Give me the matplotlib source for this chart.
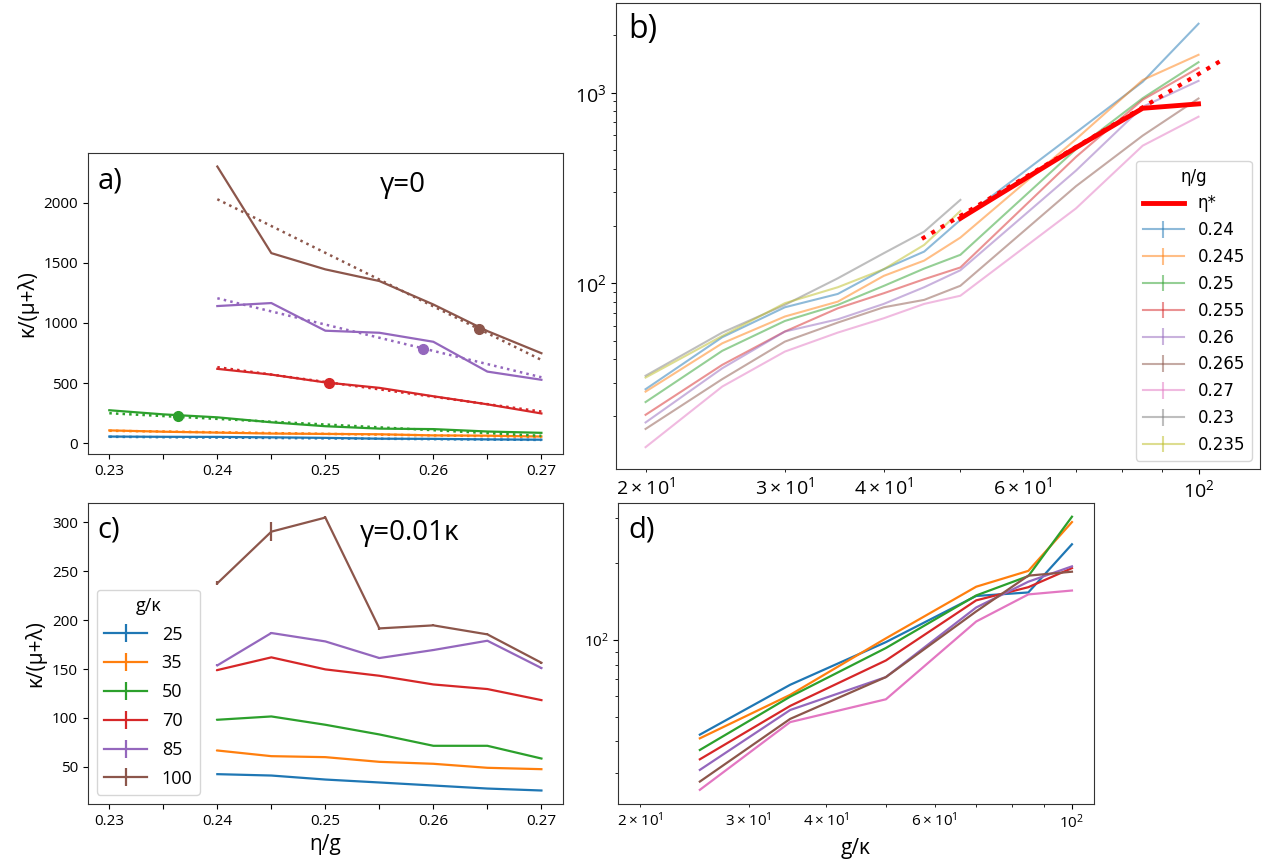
import numpy as np
import matplotlib
matplotlib.use("Agg")
import matplotlib.pyplot as plt

plt.rcParams['font.family'] = ['Open Sans', 'DejaVu Sans']
plt.rcParams['axes.edgecolor'] = '#333333'

nan = np.nan

# gamma = 0 runs: kappa/(mu+lambda) for each eta/g (rows) and g/kappa (columns)
gk0 = [20, 25, 30, 35, 40, 45, 50, 70, 85, 100]
eta0 = [0.23, 0.235, 0.24, 0.245, 0.25, 0.255, 0.26, 0.265, 0.27]
k0 = np.array([
    [32.7, 55.1, 77.0, 106.2, 143.7, 186.6, 273.8, nan, nan, nan],
    [32.0, 52.9, 78.6, 95.3, 118.4, 158.9, 239.5, nan, nan, nan],
    [27.8, 52.1, 74.8, 87.9, 118.4, 146.6, 214.9, 618, 1140, 2300],
    [27.0, 48.4, 66.9, 80.1, 109.3, 131.5, 173.6, 570, 1165, 1580],
    [23.8, 44.2, 63.4, 77.0, 96.8, 119.4, 141.0, 505, 935, 1445],
    [20.4, 37.3, 55.8, 73.9, 88.6, 105.0, 121.0, 460, 918, 1348],
    [18.6, 35.8, 55.8, 64.7, 77.9, 95.3, 117.0, 390, 843, 1153],
    [17.2, 31.4, 49.4, 62.2, 74.8, 81.8, 97.0, 323, 595, 932],
    [13.8, 28.7, 43.8, 55.1, 65.5, 77.9, 86.0, 247, 527, 748],
])

# linear fits drawn dotted in panel a (value at first and last eta of each curve)
a_gk = [25, 35, 50, 70, 85, 100]
a_fit_lo = [53, 103, 249, 632, 1205, 2028]
a_fit_hi = [27, 52, 61, 263, 548, 692]

# eta* location on each curve
star_eta = [0.2364, 0.2503, 0.2590, 0.2642]
star_val = [222, 504, 787, 950]
star_gk = [50, 70, 85, 100]

# eta* curve and its power-law fit in panel b
bstar_gk = [50, 70, 85, 100]
bstar_val = [219, 515, 828, 873]
bfit_gk = [44.7, 108]
bfit_val = [171, 1514]
b_order = [0.24, 0.245, 0.25, 0.255, 0.26, 0.265, 0.27, 0.23, 0.235]

# gamma = 0.01 kappa runs
gk1 = [25, 35, 50, 70, 85, 100]
eta1 = [0.24, 0.245, 0.25, 0.255, 0.26, 0.265, 0.27]
k1 = np.array([
    [42.5, 66.7, 98.1, 148.9, 153.7, 237.6],
    [41.1, 60.9, 101.5, 161.9, 186.8, 290.4],
    [37.0, 59.9, 93.0, 149.6, 178.2, 304.8],
    [34.0, 55.1, 83.1, 143.1, 161.2, 191.5],
    [30.9, 53.1, 71.5, 134.2, 169.4, 194.6],
    [27.8, 49.0, 71.5, 129.5, 178.9, 185.4],
    [25.8, 47.6, 58.5, 118.2, 151.0, 156.4],
])
k1_err = np.array([
    [0.3, 0.3, 0.5, 0.5, 1.0, 2.2],
    [0.3, 0.3, 0.5, 0.8, 1.0, 9.7],
    [0.3, 0.3, 0.5, 0.5, 0.8, 1.7],
    [0.3, 0.3, 0.5, 0.5, 0.8, 1.7],
    [0.3, 0.3, 0.5, 0.5, 0.8, 1.0],
    [0.3, 0.3, 0.5, 0.5, 0.8, 1.0],
    [0.3, 0.3, 0.5, 0.5, 0.8, 1.2],
])

W, H = 1266, 861
fig = plt.figure(figsize=(W / 100, H / 100), dpi=100)


def box(l, t, r, b):
    return [l / W, 1 - b / H, (r - l) / W, (b - t) / H]


ax_a = fig.add_axes(box(87.7, 152.7, 563, 454))
ax_c = fig.add_axes(box(87.7, 502.7, 563, 804))
ax_b = fig.add_axes(box(616, 3.3, 1260, 469))
ax_d = fig.add_axes(box(618.3, 502.7, 1093.6, 804))

eta_ticks = [0.23, 0.235, 0.24, 0.245, 0.25, 0.255, 0.26, 0.265, 0.27]
eta_labels = ['0.23', '', '0.24', '', '0.25', '', '0.26', '', '0.27']

# a) gamma = 0
x0 = np.array(eta0)
for i, g in enumerate(a_gk):
    y = k0[:, gk0.index(g)]
    ok = ~np.isnan(y)
    ax_a.plot(x0[ok], y[ok], color=f"C{i}", lw=1.6)
    ax_a.plot([x0[ok][0], x0[ok][-1]], [a_fit_lo[i], a_fit_hi[i]], ':',
              color=f"C{i}", lw=1.8)
for e, v, g in zip(star_eta, star_val, star_gk):
    ax_a.plot(e, v, 'o', color=f"C{a_gk.index(g)}", ms=7)
ax_a.set_xlim(0.228, 0.272)
ax_a.set_ylim(-90, 2415)
ax_a.set_yticks([0, 500, 1000, 1500, 2000])
ax_a.set_xticks(eta_ticks)
ax_a.set_xticklabels(eta_labels)
ax_a.tick_params(labelsize=11)
ax_a.set_ylabel('κ/(μ+λ)', fontsize=15)
ax_a.text(0.021, 0.955, 'a)', transform=ax_a.transAxes, fontsize=21, va='top')
ax_a.text(0.663, 0.893, 'γ=0', transform=ax_a.transAxes, fontsize=20,
          ha='center', va='center')

# c) gamma = 0.01 kappa
x1 = np.array(eta1)
for j, g in enumerate(gk1):
    ax_c.errorbar(x1, k1[:, j], yerr=k1_err[:, j], color=f"C{j}", lw=1.6,
                  label=str(g))
ax_c.set_xlim(0.228, 0.272)
ax_c.set_ylim(12, 320)
ax_c.set_yticks([50, 100, 150, 200, 250, 300])
ax_c.set_xticks(eta_ticks)
ax_c.set_xticklabels(eta_labels)
ax_c.tick_params(labelsize=11)
ax_c.set_ylabel('κ/(μ+λ)', fontsize=15)
ax_c.set_xlabel('η/g', fontsize=15)
ax_c.legend(title='g/κ', loc='lower left', fontsize=13, title_fontsize=13,
            handlelength=2.4, labelspacing=0.6)
ax_c.text(0.021, 0.959, 'c)', transform=ax_c.transAxes, fontsize=21, va='top')
ax_c.text(0.678, 0.898, 'γ=0.01κ', transform=ax_c.transAxes, fontsize=20,
          ha='center', va='center')

# b) gamma = 0, curves against g/kappa
ax_b.set_xscale('log')
ax_b.set_yscale('log')
ax_b.plot(bstar_gk, bstar_val, color='red', lw=3.5, label='η*', zorder=5)
ax_b.plot(bfit_gk, bfit_val, ':', color='red', lw=3, zorder=5)
xg = np.array(gk0)
for k, e in enumerate(b_order):
    y = k0[eta0.index(e)]
    ok = ~np.isnan(y)
    ax_b.errorbar(xg[ok], y[ok], yerr=np.zeros(ok.sum()), color=f"C{k}",
                  lw=1.5, alpha=0.5, label=str(e))
ax_b.set_xlim(18.35, 119.6)
ax_b.set_ylim(10.6, 2944)
ax_b.tick_params(which='both', labelsize=14)
leg_b = ax_b.legend(title='η/g', loc='lower right', handlelength=2.5,
                    labelspacing=0.53, prop={'family': 'DejaVu Sans', 'size': 12})
leg_b.get_title().set_family('DejaVu Sans')
leg_b.get_title().set_fontsize(12)
ax_b.text(0.0186, 0.979, 'b)', transform=ax_b.transAxes, fontsize=23, va='top')

# d) gamma = 0.01 kappa, curves against g/kappa
ax_d.set_xscale('log')
ax_d.set_yscale('log')
for i, e in enumerate(eta1):
    ax_d.plot(gk1, k1[i], color=f"C{i}", lw=1.6)
ax_d.set_xlim(18.45, 108.4)
ax_d.set_ylim(22.7, 346)
ax_d.tick_params(which='both', labelsize=11)
ax_d.set_xlabel('g/κ', fontsize=15)
ax_d.text(0.0204, 0.959, 'd)', transform=ax_d.transAxes, fontsize=21, va='top')

fig.savefig('out.png', dpi=100)
